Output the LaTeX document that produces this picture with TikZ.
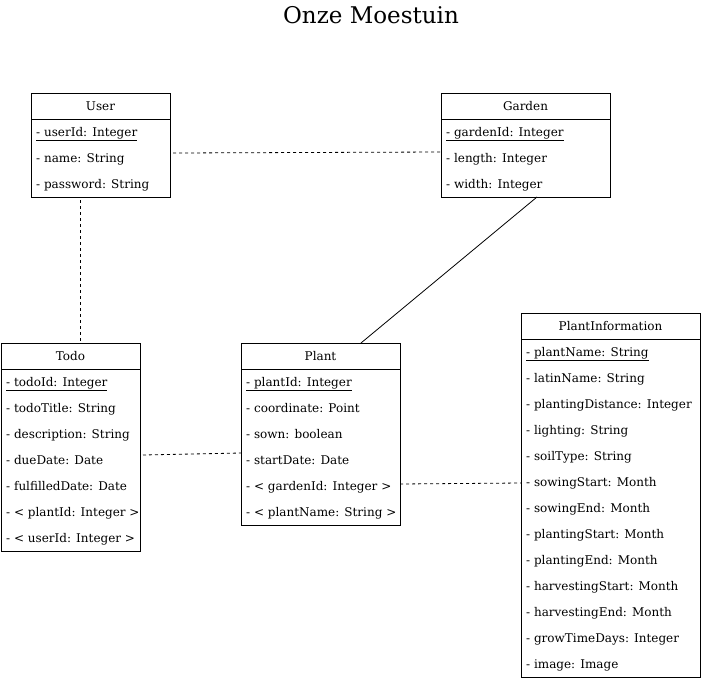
\documentclass[tikz,border=0pt]{standalone}
\usepackage{fontspec}
\setmainfont{DejaVu Serif}
\usetikzlibrary{positioning}

\tikzset{
  classbox/.style={draw, line width=0.8pt, inner sep=0pt, outer sep=0pt, anchor=north west},
  header/.style={font=\fontsize{12}{14}\selectfont},
  attr/.style={anchor=base west, inner sep=0pt, font=\fontsize{12}{14}\selectfont},
  assoc/.style={line width=0.8pt, dash pattern=on 3pt off 3pt},
  link/.style={line width=0.8pt}
}

\begin{document}
\begin{tikzpicture}[x=1pt,y=-1pt]
  \useasboundingbox (0,0) rectangle (701,680);
  \node[font=\fontsize{23}{27}\selectfont] (title) at (371,15) {Onze Moestuin};

  % User
  \node[classbox, minimum width=139, minimum height=104] (user) at (31,93) {};
  \node[header] (user-h) at ([yshift=-13pt]user.north) {User};
  \draw[line width=0.8pt] ([yshift=-26pt]user.north west) -- ([yshift=-26pt]user.north east);
  \foreach \t [count=\i] in {{\underline{- userId: Integer}}, - name: String, - password: String}
    \node[attr] (user-\i) at ([xshift=5pt, yshift={-17-26*\i}]user.north west) {\t};

  % Garden
  \node[classbox, minimum width=169, minimum height=104] (garden) at (441,93) {};
  \node[header] (garden-h) at ([yshift=-13pt]garden.north) {Garden};
  \draw[line width=0.8pt] ([yshift=-26pt]garden.north west) -- ([yshift=-26pt]garden.north east);
  \foreach \t [count=\i] in {{\underline{- gardenId: Integer}}, - length: Integer, - width: Integer}
    \node[attr] (garden-\i) at ([xshift=5pt, yshift={-17-26*\i}]garden.north west) {\t};

  % Todo
  \node[classbox, minimum width=139, minimum height=208] (todo) at (1,343) {};
  \node[header] (todo-h) at ([yshift=-13pt]todo.north) {Todo};
  \draw[line width=0.8pt] ([yshift=-26pt]todo.north west) -- ([yshift=-26pt]todo.north east);
  \foreach \t [count=\i] in {{\underline{- todoId: Integer}}, - todoTitle: String,
      - description: String, - dueDate: Date, - fulfilledDate: Date,
      - < plantId: Integer >, - < userId: Integer >}
    \node[attr] (todo-\i) at ([xshift=5pt, yshift={-17-26*\i}]todo.north west) {\t};

  % Plant
  \node[classbox, minimum width=159, minimum height=182] (plant) at (241,343) {};
  \node[header] (plant-h) at ([yshift=-13pt]plant.north) {Plant};
  \draw[line width=0.8pt] ([yshift=-26pt]plant.north west) -- ([yshift=-26pt]plant.north east);
  \foreach \t [count=\i] in {{\underline{- plantId: Integer}}, - coordinate: Point,
      - sown: boolean, - startDate: Date, - < gardenId: Integer >, - < plantName: String >}
    \node[attr] (plant-\i) at ([xshift=5pt, yshift={-17-26*\i}]plant.north west) {\t};

  % PlantInformation
  \node[classbox, minimum width=179, minimum height=364] (info) at (521,313) {};
  \node[header] (info-h) at ([yshift=-13pt]info.north) {PlantInformation};
  \draw[line width=0.8pt] ([yshift=-26pt]info.north west) -- ([yshift=-26pt]info.north east);
  \foreach \t [count=\i] in {{\underline{- plantName: String}}, - latinName: String,
      - plantingDistance: Integer, - lighting: String, - soilType: String,
      - sowingStart: Month, - sowingEnd: Month, - plantingStart: Month,
      - plantingEnd: Month, - harvestingStart: Month, - harvestingEnd: Month,
      - growTimeDays: Integer, - image: Image}
    \node[attr] (info-\i) at ([xshift=5pt, yshift={-17-26*\i}]info.north west) {\t};

  % associations
  \draw[assoc] ([xshift=3pt, yshift=-60pt]user.north east) -- ([yshift=-59pt]garden.north west);
  \draw[assoc] ([xshift=-20pt, yshift=-3pt]user.south) -- ([xshift=-20pt]user.south |- todo.north);
  \draw[link] ([xshift=11.5pt]garden.south) -- ([xshift=40.5pt]plant.north);
  \draw[assoc] ([xshift=3pt, yshift=-112pt]todo.north east) -- ([yshift=-110pt]plant.north west);
  \draw[assoc] ([yshift=-141pt]plant.north east) -- ([yshift=-170pt]info.north west);
\end{tikzpicture}
\end{document}
